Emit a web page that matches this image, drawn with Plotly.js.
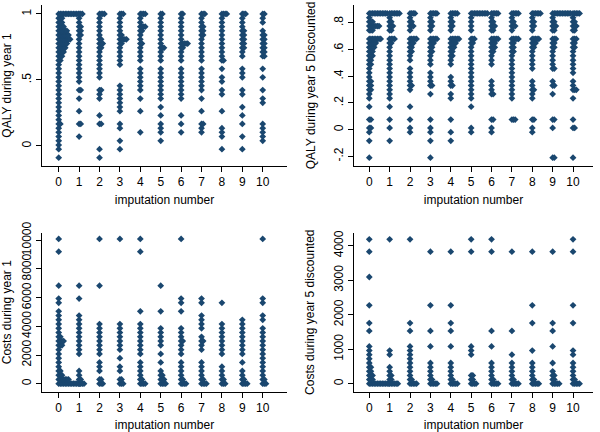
<!DOCTYPE html>
<html>
<head>
<meta charset="utf-8">
<script src="https://cdn.plot.ly/plotly-3.0.1.min.js"></script>
<style>html,body{margin:0;padding:0;background:#fff;}#chart{width:600px;height:432px;}</style>
</head>
<body>
<div id="chart"></div>
<script>
// imputation numbers (x categories)
const imputations = [0,1,2,3,4,5,6,7,8,9,10];
const xTickText = ["0","1","2","3","4","5","6","7","8","9","10"];

// ---------- Panel 1: QALY during year 1 ----------
const qaly1Levels = [-0.089,-0.057,-0.025,0.007,0.039,0.071,0.103,0.135,0.167,0.199,
  0.231,0.263,0.295,0.327,0.359,0.391,0.423,0.456,0.488,0.520,
  0.552,0.584,0.616,0.648,0.680,0.712,0.744,0.776,0.808,0.840,
  0.872,0.904,0.936,0.968,1.000];
// number of stacked dots per level, one row per imputation
const qaly1Counts = [
  [1,0,1,1,1,1,1,1,2,1, 1,1,1,1,1,1,1,1,1,1, 1,1,1,2,3,4,5,6,8,7, 6,4,3,3,13],
  [0,0,0,0,0,1,0,0,2,0, 0,1,0,0,1,0,2,0,1,1, 1,1,1,1,1,1,1,1,1,2, 2,2,1,1,3],
  [1,0,1,0,0,0,0,0,2,0, 1,0,0,0,1,1,2,0,0,1, 1,1,1,1,1,1,2,3,2,1, 1,1,1,1,4],
  [0,0,1,0,1,0,0,1,1,0, 0,1,1,1,1,1,1,1,0,0, 0,0,1,1,1,1,1,2,5,2, 1,1,1,1,3],
  [0,0,0,0,0,0,1,0,0,0, 0,1,0,0,1,0,1,1,1,1, 1,1,0,1,1,1,1,2,1,1, 2,4,1,1,4],
  [0,0,0,0,1,0,1,1,1,0, 1,0,1,0,1,1,1,1,1,1, 1,1,0,1,1,1,3,1,1,1, 1,1,1,1,2],
  [0,0,0,0,0,0,1,0,1,0, 1,0,0,0,1,1,1,1,1,1, 1,1,0,1,1,1,2,5,1,1, 1,1,1,1,2],
  [0,0,0,0,0,0,1,1,2,0, 0,1,0,0,1,0,1,1,1,1, 1,1,0,1,1,1,1,1,1,2, 2,2,1,1,3],
  [0,0,1,0,0,1,1,1,0,0, 0,1,0,0,0,1,1,0,1,1, 0,1,0,2,1,1,1,1,1,1, 1,1,1,1,4],
  [0,0,1,0,0,1,0,0,1,0, 1,0,1,0,0,1,1,0,0,1, 1,1,0,0,1,1,2,2,2,2, 2,1,1,1,3],
  [0,0,0,0,1,1,1,1,1,0, 0,0,0,1,1,0,1,0,0,1, 0,1,0,0,2,2,2,2,2,2, 1,0,1,1,2]
];
const qaly1TickVals = [0,0.5,1];
const qaly1TickText = ["0",".5","1"];

// ---------- Panel 2: QALY during year 5 Discounted ----------
const qaly5Levels = [-0.210,-0.178,-0.146,-0.115,-0.083,-0.051,-0.019,0.013,0.044,0.076,
  0.108,0.140,0.172,0.203,0.235,0.267,0.299,0.331,0.362,0.394,
  0.426,0.458,0.490,0.521,0.553,0.585,0.617,0.649,0.680,0.712,
  0.744,0.776,0.808,0.839,0.871];
const qaly5Counts = [
  [1,0,0,0,1,0,1,2,0,2, 0,0,1,0,1,1,2,2,2,1, 1,1,2,2,3,3,4,5,8,0, 3,7,3,1,12],
  [0,0,0,0,1,0,0,1,0,1, 0,0,1,0,1,1,1,1,1,1, 1,1,1,1,1,1,1,2,4,0, 2,3,2,1,7],
  [0,0,0,0,0,0,1,1,0,1, 0,0,1,0,0,0,1,2,1,1, 1,1,0,1,1,2,2,3,5,0, 1,3,2,1,4],
  [1,0,0,0,1,0,1,1,0,1, 0,0,0,0,0,1,0,2,1,1, 1,0,1,1,1,2,2,3,5,0, 1,2,2,1,5],
  [0,0,0,0,1,0,1,0,0,1, 0,0,0,0,1,1,0,2,1,1, 0,0,1,1,2,2,3,4,6,0, 1,2,2,1,5],
  [0,0,0,0,0,0,1,1,0,0, 0,0,1,0,1,1,1,1,1,1, 1,1,1,1,1,1,1,2,3,0, 1,1,1,1,11],
  [0,0,0,0,0,0,1,1,0,2, 0,0,0,0,0,2,1,1,1,0, 0,0,1,1,1,2,3,3,5,0, 2,3,2,1,5],
  [0,0,0,0,0,0,0,0,0,3, 0,0,0,0,1,1,1,1,1,1, 1,1,1,1,1,2,2,2,5,0, 1,3,2,1,5],
  [0,0,0,0,0,0,1,1,0,2, 0,0,0,0,1,1,2,1,1,0, 0,1,1,1,1,1,2,3,5,0, 1,2,2,1,6],
  [2,0,0,0,0,0,0,1,0,2, 0,0,0,0,0,1,0,2,1,0, 0,2,1,1,1,1,2,2,3,0, 2,3,2,1,12],
  [1,0,0,0,0,0,0,2,0,1, 0,0,0,0,1,0,3,1,1,0, 1,1,1,1,1,1,2,2,3,0, 2,3,2,1,5]
];
const qaly5TickVals = [-0.2,0,0.2,0.4,0.6,0.8];
const qaly5TickText = ["-.2","0",".2",".4",".6",".8"];

// ---------- Panel 3: Costs during year 1 ----------
const cost1Levels = [0,297,594,891,1188,1485,1782,2079,2376,2673,
  2970,3267,3564,3861,4158,4455,4752,5049,5346,5643,
  5940,6237,6534,6831,7128,7425,7722,8019,8316,8613,
  8910,9207,9504,9801,10098];
const cost1Counts = [
  [14,7,3,2,1,1,1,1,1,3, 4,2,1,1,1,1,1,1,0,1, 1,0,0,1,0,0,0,0,0,0, 0,1,0,0,1],
  [4,2,1,1,0,0,0,1,1,1, 1,1,1,1,1,1,1,0,0,0, 1,0,0,1,0,0,0,0,0,0, 0,0,0,0,0],
  [3,2,0,1,1,1,0,1,1,1, 1,1,1,1,1,0,0,0,0,0, 0,0,0,1,0,0,0,0,0,0, 0,0,0,0,1],
  [3,2,0,1,1,0,1,0,1,1, 1,1,1,1,1,0,0,0,0,0, 0,0,0,0,0,0,0,0,0,0, 0,0,0,0,1],
  [4,2,1,1,1,1,0,1,1,1, 1,1,1,1,1,0,0,1,0,0, 0,0,0,0,0,0,0,0,0,0, 0,1,0,0,1],
  [4,3,2,1,0,1,0,1,0,1, 1,1,1,1,0,0,0,1,0,0, 0,0,0,1,0,0,0,0,0,0, 0,0,0,0,0],
  [4,2,1,1,1,1,0,1,1,1, 2,1,1,1,0,0,0,1,0,1, 1,0,0,0,0,0,0,0,0,0, 0,0,0,0,1],
  [4,2,1,1,1,1,0,0,1,1, 2,1,0,1,1,1,1,0,0,1, 1,0,0,0,0,0,0,0,0,0, 0,0,0,0,0],
  [3,2,1,1,1,0,0,1,1,1, 1,1,1,1,1,0,0,0,0,1, 0,0,0,0,0,0,0,0,0,0, 0,0,0,0,0],
  [4,2,1,1,0,1,0,1,1,1, 1,1,1,1,1,1,0,0,0,0, 0,0,0,0,0,0,0,0,0,0, 0,0,0,0,0],
  [3,2,1,1,1,1,1,1,1,1, 1,1,1,1,0,1,1,0,0,1, 1,0,0,0,0,0,0,0,0,0, 0,0,0,0,1]
];
const cost1TickVals = [0,2000,4000,6000,8000,10000];
const cost1TickText = ["0","2000","4000","6000","8000","10000"];

// ---------- Panel 4: Costs during year 5 discounted ----------
const cost5Levels = [0,120,240,360,480,600,720,840,960,1080,1530,1759,2272,3093,3826,4186];
const cost5Counts = [
  [13,3,3,2,2,1,1,1,1,1,1,1,1,1,1,1],
  [6,2,2,1,1,0,0,1,1,0,0,0,0,0,0,1],
  [5,2,1,1,1,1,1,1,1,1,1,1,0,0,0,1],
  [5,2,1,1,1,1,0,0,0,1,1,0,1,0,1,0],
  [5,2,1,1,1,1,0,0,0,1,1,1,1,0,1,0],
  [4,2,2,0,0,0,0,1,1,1,0,0,0,0,1,1],
  [5,2,1,1,1,1,0,0,0,1,1,0,0,0,1,1],
  [5,2,1,1,1,1,0,1,0,0,1,0,0,0,1,0],
  [5,2,1,1,1,1,0,0,1,0,0,1,1,0,1,0],
  [5,2,2,1,0,1,0,0,0,1,1,1,0,0,1,0],
  [5,2,1,1,1,1,0,1,1,0,0,1,1,0,1,1]
];
const cost5TickVals = [0,1000,2000,3000,4000];
const cost5TickText = ["0","1000","2000","3000","4000"];

// ---------- build stacked dot positions ----------
const STACK = 0.08; // horizontal offset between stacked dots (x units)
function stack(levels, counts){
  const x = [], y = [];
  counts.forEach((row, g) => {
    row.forEach((c, i) => {
      for (let k = 0; k < c; k++){ x.push(imputations[g] + k*STACK); y.push(levels[i]); }
    });
  });
  return {x, y};
}

const NAVY = '#1a476f';
const FONT = {family: 'Liberation Sans, Arial, sans-serif', size: 12, color: '#000'};
const marker = {symbol: 'diamond', size: 5.2, color: NAVY, line: {width: 0}};

const p1 = stack(qaly1Levels, qaly1Counts);
const p2 = stack(qaly5Levels, qaly5Counts);
const p3 = stack(cost1Levels, cost1Counts);
const p4 = stack(cost5Levels, cost5Counts);

const traces = [
  {type:'scatter', mode:'markers', x:p1.x, y:p1.y, xaxis:'x', yaxis:'y', marker, hoverinfo:'skip'},
  {type:'scatter', mode:'markers', x:p2.x, y:p2.y, xaxis:'x2', yaxis:'y2', marker, hoverinfo:'skip'},
  {type:'scatter', mode:'markers', x:p3.x, y:p3.y, xaxis:'x3', yaxis:'y3', marker, hoverinfo:'skip'},
  {type:'scatter', mode:'markers', x:p4.x, y:p4.y, xaxis:'x4', yaxis:'y4', marker, hoverinfo:'skip'}
];

const W = 600, H = 432;
function base(){
  return {showline:true, linecolor:'#000', linewidth:1, mirror:false,
    ticks:'outside', ticklen:5, tickwidth:1, tickcolor:'#000',
    showgrid:false, zeroline:false, tickfont:FONT, fixedrange:true, automargin:false};
}
function xAxis(l, r, anchor, range){
  return Object.assign(base(), {domain:[l/W, r/W], anchor, range,
    tickmode:'array', tickvals:imputations, ticktext:xTickText,
    title:{text:'imputation number', font:FONT, standoff:7}});
}
function yAxis(top, bottom, anchor, range, tv, tt, title){
  return Object.assign(base(), {domain:[1-bottom/H, 1-top/H], anchor, range,
    tickmode:'array', tickvals:tv, ticktext:tt, tickangle:-90,
    title:{text:title, font:FONT, standoff:14}});
}

const layout = {
  width:W, height:H, margin:{l:0, r:0, t:0, b:0},
  paper_bgcolor:'#fff', plot_bgcolor:'#fff', showlegend:false, hovermode:false,
  font:FONT,
  xaxis:  xAxis(42, 287, 'y',  [-0.819, 11.19]),
  xaxis2: xAxis(354, 593, 'y2', [-0.75, 10.98]),
  xaxis3: xAxis(42, 287, 'y3', [-0.819, 11.19]),
  xaxis4: xAxis(354, 593, 'y4', [-0.75, 10.98]),
  yaxis:  yAxis(5, 166, 'x',  [-0.152, 1.068], qaly1TickVals, qaly1TickText, 'QALY during year 1'),
  yaxis2: yAxis(5, 166, 'x2', [-0.272, 0.934], qaly5TickVals, qaly5TickText, 'QALY during year 5 Discounted'),
  yaxis3: yAxis(232.7, 391.7, 'x3', [-558, 10530], cost1TickVals, cost1TickText, 'Costs during year 1'),
  yaxis4: yAxis(232.7, 391.7, 'x4', [-232, 4377], cost5TickVals, cost5TickText, 'Costs during year 5 discounted')
};

Plotly.newPlot('chart', traces, layout, {staticPlot:true, displayModeBar:false});
</script>
</body>
</html>
